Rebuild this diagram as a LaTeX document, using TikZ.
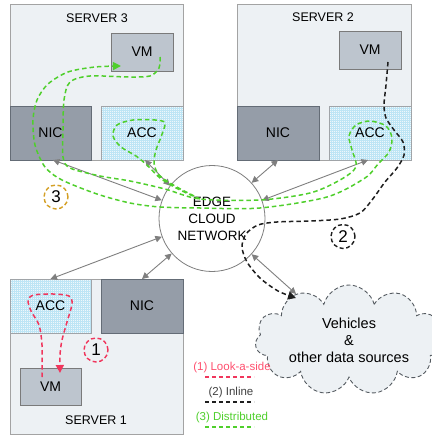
\documentclass[tikz,border=0pt]{standalone}
\usepackage{fontspec}
\setmainfont{Liberation Sans}
\usetikzlibrary{arrows.meta,shapes.symbols}
\definecolor{srvfill}{HTML}{EDF1F4}
\definecolor{srvdraw}{HTML}{A3A3A3}
\definecolor{vmfill}{HTML}{BDC5CE}
\definecolor{vmdraw}{HTML}{7A7A7A}
\definecolor{nicfill}{HTML}{959DA8}
\definecolor{nicdraw}{HTML}{646C76}
\definecolor{accfill}{HTML}{EEF7FB}
\definecolor{accgrid}{HTML}{BDE5F5}
\definecolor{accdraw}{HTML}{A0A4A8}
\definecolor{flowred}{HTML}{F0365C}
\definecolor{legred}{HTML}{FF4F6E}
\definecolor{flowgreen}{HTML}{4FCF2C}
\definecolor{flowblack}{HTML}{1E1E1E}
\definecolor{goldc}{HTML}{D4A026}
\definecolor{arrowgray}{HTML}{7F7F7F}
\definecolor{cloudline}{HTML}{555B61}
\begin{document}
\begin{tikzpicture}[x=1pt,y=-1pt,
  box/.style={draw, line width=0.9pt, inner sep=0pt, outer sep=0pt, font=\fontsize{14}{14}\selectfont},
  srv/.style={box, fill=srvfill, draw=srvdraw},
  vmbox/.style={box, fill=vmfill, draw=vmdraw, minimum width=62pt, minimum height=38pt},
  nicbox/.style={box, fill=nicfill, draw=nicdraw, minimum width=82pt, minimum height=54pt},
  accbox/.style={box, fill=accfill, draw=accdraw, minimum width=82pt, minimum height=54pt,
     path picture={\draw[accgrid, line width=0.35pt, step=2pt] (path picture bounding box.south west) grid (path picture bounding box.north east);}},
  title/.style={font=\fontsize{12.5}{12.5}\selectfont, inner sep=0pt},
  garrow/.style={arrowgray, line width=0.9pt, {Triangle[length=6.5pt,width=6.5pt]}-{Triangle[length=6.5pt,width=6.5pt]}},
  flow/.style={line width=1.5pt, dash pattern=on 4.5pt off 3pt},
  numc/.style={circle, line width=1.4pt, dash pattern=on 4pt off 2.6pt, minimum size=24pt, inner sep=0pt, font=\fontsize{17}{17}\selectfont},
  lgd/.style={font=\fontsize{11.5}{11.5}\selectfont, inner sep=0pt},
  tip/.style={-{Triangle[length=8pt,width=8pt]}}
]
\useasboundingbox (0,0) rectangle (431,435);

% servers
\node[srv, minimum width=173pt, minimum height=156pt] (s3) at (96.5,82) {};
\node[srv, minimum width=174pt, minimum height=156pt] (s2) at (324,82) {};
\node[srv, minimum width=173pt, minimum height=155pt] (s1) at (96.5,356.5) {};

\node[title] (t3) at (97,18) {SERVER 3};
\node[title] (t2) at (323,17) {SERVER 2};
\node[title] (t1) at (96,420) {SERVER 1};

\node[vmbox] (vm3) at (142,52) {VM};
\node[nicbox, minimum width=81pt] (nic3) at (50.5,133) {NIC};
\node[accbox] (acc3) at (142,133) {ACC};

\node[vmbox] (vm2) at (370,50) {VM};
\node[nicbox] (nic2) at (278,133) {NIC};
\node[accbox] (acc2) at (370,133) {ACC};

\node[accbox, minimum width=81pt] (acc1) at (50.5,306) {ACC};
\node[nicbox] (nic1) at (142,306) {NIC};
\node[vmbox, minimum width=61pt, minimum height=37pt] (vm1) at (50.5,386.5) {VM};

% network and cloud
\node[circle, draw=arrowgray, line width=0.8pt, fill=white, minimum size=106pt, inner sep=0pt, align=center,
      font=\fontsize{13.5}{17}\selectfont] (net) at (212,218.5) {EDGE\\CLOUD\\NETWORK};
\node[cloud, cloud puffs=11, cloud ignores aspect, minimum width=164pt, minimum height=110pt,
      draw=cloudline, line width=0.9pt, dash pattern=on 4pt off 2.5pt, fill=srvfill, align=center,
      font=\fontsize{14.5}{17}\selectfont] (cloud) at (349,340) {Vehicles\\\&\\other data sources};

% gray links
\draw[garrow] ([xshift=2.5pt]nic3.south) -- (net.160);
\draw[garrow] ([xshift=3pt]acc3.south) -- (net.142);
\draw[garrow] (nic2.south) -- (net.42);
\draw[garrow] ([xshift=-2pt]acc2.south) -- (net.20);
\draw[garrow] (net.200) -- (acc1.north);
\draw[garrow] (net.221) -- (nic1.north);
\draw[garrow] (net.318) -- (cloud.139);

% green distributed flow
\draw[flow, flowgreen, tip] plot[smooth, tension=0.5] coordinates {
 (160,57) (159,68) (150,76) (128,77) (90,76) (70,82) (64,100) (63,130) (63,157) (70,168)
 (100,176) (130,181) (165,189) (200,199) (260,200) (310,193) (340,180) (356,167)
 (352,150) (349,136) (356,125) (370,121) (386,126) (392,138) (389,152) (378,164)
 (365,178) (327,197) (260,208) (200,208) (160,207) (130,203) (97,194) (62,180)
 (45,167) (35,145) (33,120) (37,100) (48,84) (68,72) (95,67) (121,66)};
\draw[flow, flowgreen] plot[smooth, tension=0.5] coordinates {
 (200,199) (178,189) (160,178) (148,166) (136,156) (121,147) (113,136) (117,125)
 (133,120) (155,120) (165,123) (161,137) (156,150) (154,163) (159,175) (175,186) (200,199)};

% black inline flow
\draw[flow, flowblack, tip] plot[smooth, tension=0.5] coordinates {
 (388,62) (386,85) (384,105) (386,118) (394,130) (403,142) (404,155) (397,168) (385,182)
 (372,200) (360,213) (340,219) (310,221) (277,222) (258,225) (246,234) (242,247)
 (247,262) (260,278) (278,291) (296,298)};

% red look-aside flow
\draw[flow, flowred, tip] plot[smooth, tension=0.5] coordinates {
 (42,377) (42,345) (39,325) (31,311) (28,300) (34,295) (53,294) (69,296) (72,304)
 (67,322) (62,340) (60,355) (60,373)};

% numbered circles
\node[numc, draw=flowred] (n1) at (96,350) {1};
\node[numc, draw=flowblack] (n2) at (343,236.5) {2};
\node[numc, draw=goldc] (n3) at (56,197) {3};

% legend
\node[lgd, text=legred] (l1) at (232,368) {(1) Look-a-side};
\node[lgd, text=black!75] (l2) at (231,393) {(2) Inline};
\node[lgd, text=flowgreen] (l3) at (232,418) {(3) Distributed};
\draw[flowred, line width=1.1pt, dash pattern=on 4pt off 3pt] (205,377) -- (254,377);
\draw[flowblack, line width=1.1pt, dash pattern=on 4pt off 3pt] (205,402) -- (254,402);
\draw[flowgreen, line width=1.1pt, dash pattern=on 4pt off 3pt] (205,427) -- (254,427);
\end{tikzpicture}
\end{document}
